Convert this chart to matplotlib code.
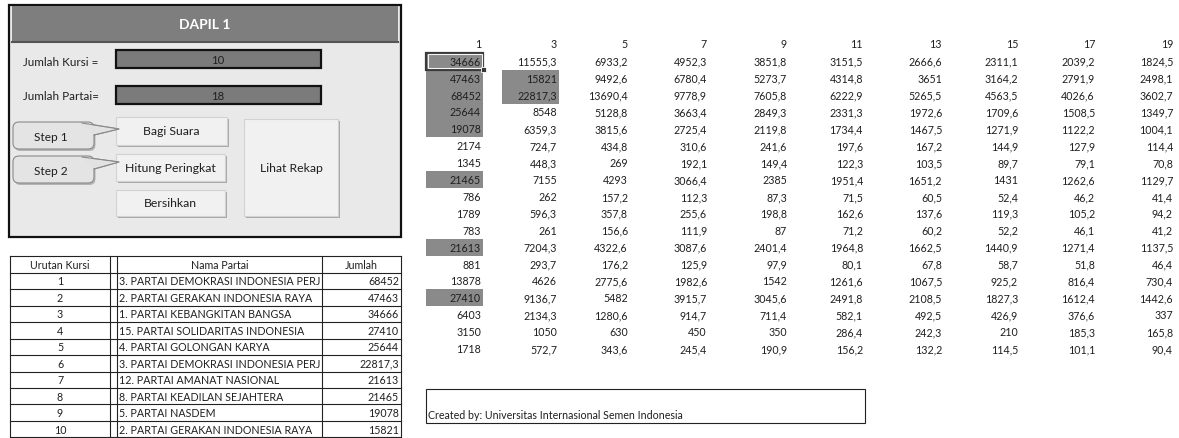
import matplotlib
matplotlib.use("Agg")
import matplotlib.pyplot as plt
from matplotlib.patches import Rectangle, FancyBboxPatch, Polygon

plt.rcParams['font.family'] = ['Lato', 'DejaVu Sans']

# ---------------- data ----------------
divisors = [1, 3, 5, 7, 9, 11, 13, 15, 17, 19]
div1 = [34666, 47463, 68452, 25644, 19078, 2174, 1345, 21465, 786, 1789, 783, 21613, 881, 13878, 27410, 6403, 3150, 1718]
div3 = [11555.3, 15821, 22817.3, 8548, 6359.3, 724.7, 448.3, 7155, 262, 596.3, 261, 7204.3, 293.7, 4626, 9136.7, 2134.3, 1050, 572.7]
div5 = [6933.2, 9492.6, 13690.4, 5128.8, 3815.6, 434.8, 269, 4293, 157.2, 357.8, 156.6, 4322.6, 176.2, 2775.6, 5482, 1280.6, 630, 343.6]
div7 = [4952.3, 6780.4, 9778.9, 3663.4, 2725.4, 310.6, 192.1, 3066.4, 112.3, 255.6, 111.9, 3087.6, 125.9, 1982.6, 3915.7, 914.7, 450, 245.4]
div9 = [3851.8, 5273.7, 7605.8, 2849.3, 2119.8, 241.6, 149.4, 2385, 87.3, 198.8, 87, 2401.4, 97.9, 1542, 3045.6, 711.4, 350, 190.9]
div11 = [3151.5, 4314.8, 6222.9, 2331.3, 1734.4, 197.6, 122.3, 1951.4, 71.5, 162.6, 71.2, 1964.8, 80.1, 1261.6, 2491.8, 582.1, 286.4, 156.2]
div13 = [2666.6, 3651, 5265.5, 1972.6, 1467.5, 167.2, 103.5, 1651.2, 60.5, 137.6, 60.2, 1662.5, 67.8, 1067.5, 2108.5, 492.5, 242.3, 132.2]
div15 = [2311.1, 3164.2, 4563.5, 1709.6, 1271.9, 144.9, 89.7, 1431, 52.4, 119.3, 52.2, 1440.9, 58.7, 925.2, 1827.3, 426.9, 210, 114.5]
div17 = [2039.2, 2791.9, 4026.6, 1508.5, 1122.2, 127.9, 79.1, 1262.6, 46.2, 105.2, 46.1, 1271.4, 51.8, 816.4, 1612.4, 376.6, 185.3, 101.1]
div19 = [1824.5, 2498.1, 3602.7, 1349.7, 1004.1, 114.4, 70.8, 1129.7, 41.4, 94.2, 41.2, 1137.5, 46.4, 730.4, 1442.6, 337, 165.8, 90.4]
columns = [div1, div3, div5, div7, div9, div11, div13, div15, div17, div19]

rank = list(range(1, 11))
party_names = ["3. PARTAI DEMOKRASI INDONESIA PERJ",
               "2. PARTAI GERAKAN INDONESIA RAYA",
               "1. PARTAI KEBANGKITAN BANGSA",
               "15. PARTAI SOLIDARITAS INDONESIA",
               "4. PARTAI GOLONGAN KARYA",
               "3. PARTAI DEMOKRASI INDONESIA PERJ",
               "12. PARTAI AMANAT NASIONAL",
               "8. PARTAI KEADILAN SEJAHTERA",
               "5. PARTAI NASDEM",
               "2. PARTAI GERAKAN INDONESIA RAYA"]
jumlah = [68452, 47463, 34666, 27410, 25644, 22817.3, 21613, 21465, 19078, 15821]

title = "DAPIL 1"
jumlah_kursi = 10
jumlah_partai = 18
footer = "Created by: Universitas Internasional Semen Indonesia"


def fmt(v):
    if float(v).is_integer():
        return str(int(v))
    return ("%.1f" % v).replace(".", ",")


# ---------------- figure ----------------
W, H = 1179, 439
fig = plt.figure(figsize=(W / 100, H / 100), dpi=100)
ax = fig.add_axes([0, 0, 1, 1])
ax.set_xlim(0, W)
ax.set_ylim(H, 0)
ax.axis('off')

FS = 7.7
TXT = '#1f1f1f'

# ---- left control panel ----
ax.add_patch(Rectangle((9, 6), 392, 232, facecolor='#e9e9e9', edgecolor='#111111', lw=1.6, zorder=1))
ax.add_patch(Rectangle((12, 7), 386, 36, facecolor='#7e7e7e', edgecolor='none', zorder=2))
ax.plot([12, 398], [43, 43], color='#555555', lw=1.5, zorder=3)
ax.text(205, 25, title, ha='center', va='center', color='white', fontsize=10, fontweight='bold', zorder=4)

ax.text(23, 62, "Jumlah Kursi =", ha='left', va='center', fontsize=8.4, color=TXT, zorder=4)
ax.text(23, 97, "Jumlah Partai=", ha='left', va='center', fontsize=8.4, color=TXT, zorder=4)
for y0, val in [(51, jumlah_kursi), (87, jumlah_partai)]:
    ax.add_patch(Rectangle((116, y0), 205, 18, facecolor='#7b7b7b', edgecolor='#111111', lw=1.6, zorder=3))
    ax.text(218, y0 + 9.5, str(val), ha='center', va='center', fontsize=8.2, color=TXT, zorder=4)


def button(x, y, w, h, label):
    ax.add_patch(Rectangle((x + 2, y + 2), w, h, facecolor='#a8a8a8', edgecolor='none', zorder=2))
    ax.add_patch(Rectangle((x, y), w, h, facecolor='#f1f1f1', edgecolor='#d2d2d2', lw=0.8, zorder=3))
    ax.text(x + w / 2, y + h / 2, label, ha='center', va='center', fontsize=8.8, color=TXT, zorder=4)


button(116, 118, 111, 28, "Bagi Suara")
button(116, 155, 109, 27, "Hitung Peringkat")
button(116, 191, 109, 26, "Bersihkan")
button(244, 120, 94, 97, "Lihat Rekap")


def callout(x, y, w, h, tip, label):
    ax.add_patch(FancyBboxPatch((x + 1.5, y + 2), w, h, boxstyle="round,pad=0,rounding_size=6",
                                facecolor='#b4b4b4', edgecolor='none', zorder=2))
    ax.add_patch(Polygon([(x + w - 12, y + 1), tip, (x + w, y + 13)], closed=True,
                         facecolor='#e2e2e2', edgecolor='#8a8a8a', lw=0.8, zorder=3))
    ax.add_patch(FancyBboxPatch((x, y), w, h, boxstyle="round,pad=0,rounding_size=6",
                                facecolor='#e4e4e4', edgecolor='#8a8a8a', lw=0.8, zorder=3))
    ax.add_patch(Polygon([(x + w - 12, y + 1.8), tip, (x + w - 0.8, y + 12.5)], closed=True,
                         facecolor='#e2e2e2', edgecolor='none', zorder=3.5))
    ax.plot([x + w - 12, tip[0], x + w], [y + 1, tip[1], y + 13], color='#8a8a8a', lw=0.8, zorder=3.6)
    ax.text(x + w / 2 - 3, y + h / 2 + 1, label, ha='center', va='center', fontsize=8.6, color=TXT, zorder=4)


callout(13, 123, 81, 27, (119, 130), "Step 1")
callout(13, 157, 81, 27, (119, 163), "Step 2")

# ---- ranking table ----
tx = [10, 110, 117, 322, 401]
t_top, pitch = 257, 16.5
nrows = len(rank) + 1
t_bot = t_top + pitch * nrows
for i in range(nrows + 1):
    ax.plot([tx[0], tx[-1]], [t_top + pitch * i] * 2, color='#222222', lw=0.8, zorder=3)
for xv in tx:
    ax.plot([xv, xv], [t_top, t_bot], color='#222222', lw=0.8, zorder=3)
yc = t_top + pitch / 2
ax.text(60, yc, "Urutan Kursi", ha='center', va='center', fontsize=FS, color=TXT)
ax.text(220, yc, "Nama Partai", ha='center', va='center', fontsize=FS, color=TXT)
ax.text(361, yc, "Jumlah", ha='center', va='center', fontsize=FS, color=TXT)
for i, (r, n, j) in enumerate(zip(rank, party_names, jumlah)):
    y = t_top + pitch * (i + 1) + pitch / 2
    ax.text(60, y, str(r), ha='center', va='center', fontsize=FS, color=TXT)
    ax.text(119, y, n, ha='left', va='center', fontsize=FS, color=TXT)
    ax.text(399, y, fmt(j), ha='right', va='center', fontsize=FS, color=TXT)

# ---- division grid ----
col_right = [481, 557, 628, 707, 787, 863, 942, 1018, 1095, 1173]
row0, rp = 62.3, 16.9
hdr_y = 44
cell_w = 57
winners = set(jumlah)
for c, (d, vals) in enumerate(zip(divisors, columns)):
    xr = col_right[c]
    ax.text(xr, hdr_y, str(d), ha='right', va='center', fontsize=FS, color=TXT, zorder=5)
    for r, v in enumerate(vals):
        y = row0 + rp * r
        if v in winners:
            ax.add_patch(Rectangle((xr - cell_w + 2, y - rp / 2), cell_w, rp,
                                   facecolor='#8a8a8a', edgecolor='none', zorder=2))
        ax.text(xr, y, fmt(v), ha='right', va='center', fontsize=FS, color=TXT, zorder=5)

# selection marker on the first cell
sx, sy = col_right[0] - cell_w + 2, row0 - rp / 2
ax.add_patch(Rectangle((sx, sy), cell_w, rp, facecolor='none', edgecolor='#3a3a3a', lw=1.6, zorder=4))
ax.add_patch(Rectangle((sx + 1.5, sy + 1.5), cell_w - 3, rp - 3, facecolor='none', edgecolor='#f4f4f4', lw=0.8, zorder=4))
ax.add_patch(Rectangle((sx + cell_w - 2.5, sy + rp - 2.5), 5, 5, facecolor='#3a3a3a', edgecolor='white', lw=0.6, zorder=6))

# ---- footer box ----
ax.add_patch(Rectangle((426, 390), 439, 34, facecolor='none', edgecolor='#222222', lw=0.8, zorder=3))
ax.text(428, 416, footer, ha='left', va='center', fontsize=FS, color=TXT)

fig.savefig("out.png", dpi=100)
